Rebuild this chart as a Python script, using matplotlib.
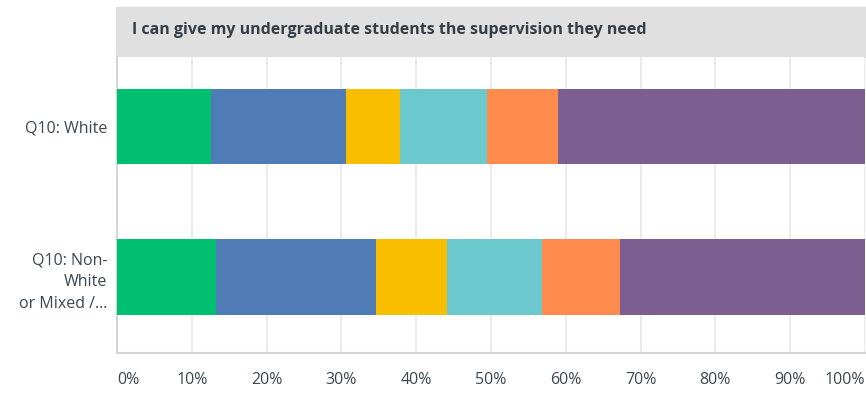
import numpy as np
import matplotlib
matplotlib.use('Agg')
import matplotlib.pyplot as plt
from matplotlib.patches import Rectangle

plt.rcParams['font.family'] = ['Open Sans', 'DejaVu Sans']

title = 'I can give my undergraduate students the supervision they need'
groups = ['Q10: White', 'Q10: Non-\nWhite\nor Mixed /…']
# share of each answer (percent), left to right
answers = ['A1', 'A2', 'A3', 'A4', 'A5', 'A6']
white = [12.6, 18.0, 7.2, 11.7, 9.5, 41.0]
non_white = [13.3, 21.3, 9.5, 12.7, 10.5, 32.7]
colors = ['#00bf6f', '#507cb6', '#f9be00', '#6bc8cd', '#ff8b4f', '#7d5e90']
xticks = [0, 10, 20, 30, 40, 50, 60, 70, 80, 90, 100]
xtick_labels = ['0%', '10%', '20%', '30%', '40%', '50%', '60%', '70%', '80%', '90%', '100%']

text_color = '#3b4751'

fig = plt.figure(figsize=(8.66, 3.94), dpi=100)
W, H = 866, 394
ax = fig.add_axes([117 / W, (H - 352.5) / H, (865 - 117) / W, (352.5 - 57) / H])

data = np.array([white, non_white])
y = np.arange(len(groups))
left = np.zeros(len(groups))
for i in range(len(answers)):
    ax.barh(y, data[:, i], left=left, height=0.5, color=colors[i], zorder=3)
    left += data[:, i]

ax.set_xlim(0, 100)
ax.set_ylim(1.5, -0.46)
ax.set_xticks(xticks)
ax.set_xticklabels(xtick_labels, fontsize=11.5, color=text_color)
labs = ax.get_xticklabels()
labs[0].set_ha('left')
labs[-1].set_ha('right')
ax.set_yticks(y)
ax.set_yticklabels(groups, fontsize=11.5, color=text_color, linespacing=1.5)
ax.tick_params(length=0)
ax.tick_params(axis='y', pad=7)
ax.tick_params(axis='x', pad=14)
ax.grid(axis='x', color='#e8e8e8', linewidth=1.2, zorder=0)
for s in ['top', 'right']:
    ax.spines[s].set_visible(False)
ax.spines['left'].set_color('#d6d6d6')
ax.spines['bottom'].set_color('#d6d6d6')
ax.spines['left'].set_linewidth(1.5)
ax.spines['bottom'].set_linewidth(1.5)

# title band
fig.add_artist(Rectangle((116 / W, (H - 57) / H), (W - 116) / W, 50 / H,
                         transform=fig.transFigure, color='#e0e0e0', zorder=0))
fig.text(132 / W, (H - 30) / H, title, fontsize=11.5, fontweight='bold',
         color='#333e48', va='center', ha='left')

fig.savefig('out.png', dpi=100)
